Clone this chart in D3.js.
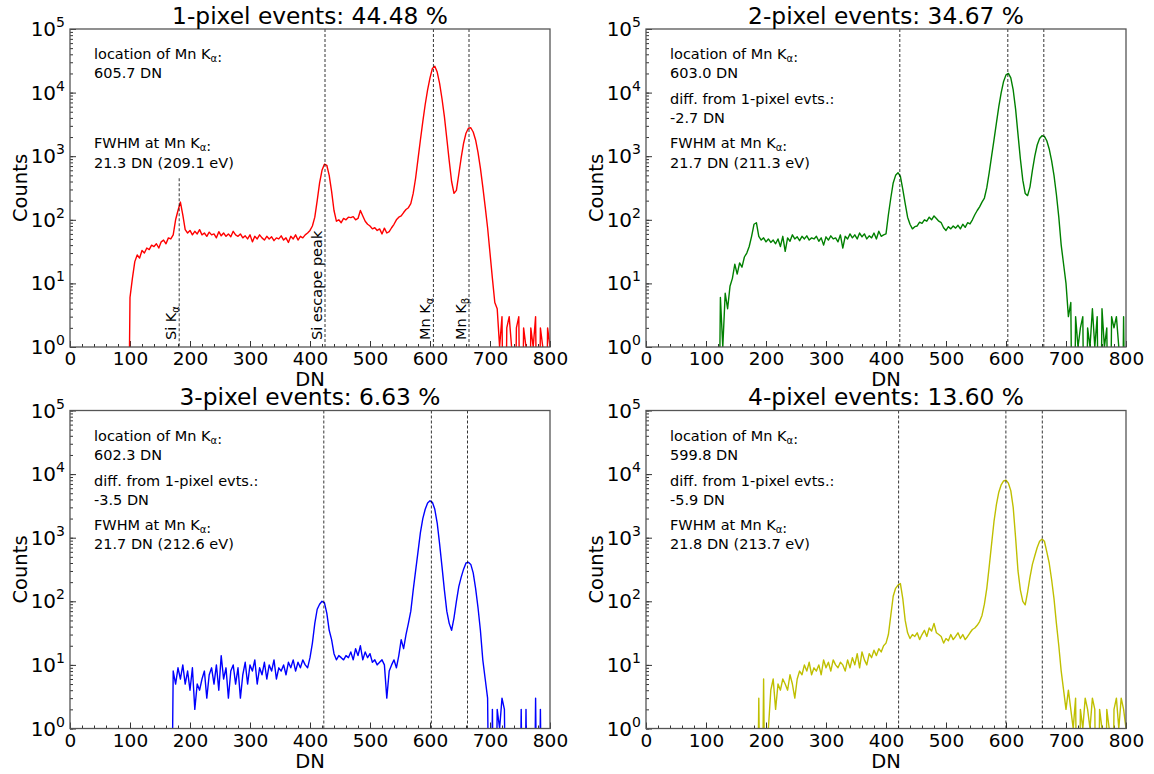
<!DOCTYPE html>
<html>
<head>
<meta charset="utf-8">
<script src="https://cdn.jsdelivr.net/npm/d3@7"></script>
<style>
body { margin: 0; background: #fff; }
svg { font-family: "DejaVu Sans", sans-serif; }
</style>
</head>
<body>
<div id="chart"></div>
<script>
// DN bins (4 DN wide), shared by all four spectra
var dnBins = d3.range(0, 801, 4);

var counts1 = [0,0,0,0,0,0,0,0,0,0,0,0,0,0,0,0,0,0,0,0,0,0,0,0,0,
    6,12,22,28,25,33,30,36,34,40,38,42,36,45,48,42,52,50,58,100,140,190,120,70,62,
    68,58,66,60,70,58,62,55,64,58,60,52,65,56,62,55,60,54,66,58,55,60,52,56,50,
    58,45,55,50,58,52,48,55,50,54,47,52,50,56,48,52,44,55,50,58,48,55,52,58,62,
    68,80,110,200,380,600,750,720,500,280,140,95,100,90,105,100,110,108,112,100,105,140,115,95,85,
    80,72,75,68,72,60,74,62,65,75,85,100,110,115,130,145,155,180,260,450,900,1800,3500,6500,11000,
    17000,24000,26000,21000,14000,8000,4200,1900,850,400,260,290,520,950,1600,2300,2750,2800,2400,1800,1150,650,330,160,75,
    30,12,5,4,1,3,0,2,3,1,0,2,3,0,2,1,0,2,1,3,0,2,1,0,2,
    1];

var counts2 = [0,0,0,0,0,0,0,0,0,0,0,0,0,0,0,0,0,0,0,0,0,0,0,0,0,0,0,0,0,0,0,
    6,1,7,4,9,12,20,14,21,18,26,30,38,55,85,90,55,48,52,45,50,44,48,42,50,
    38,55,32,52,46,58,50,54,47,55,50,56,48,52,50,55,46,52,40,54,48,56,50,52,45,
    58,36,55,50,60,52,58,50,62,54,60,50,56,52,62,50,66,55,58,60,120,220,380,500,550,
    480,300,180,110,85,72,78,80,92,88,100,95,110,100,115,105,95,90,75,68,78,72,80,74,82,
    72,85,76,90,86,100,120,140,160,190,220,320,550,1000,1800,3300,6000,10000,15000,19000,20000,17000,11000,5500,2200,
    900,420,260,240,330,600,1000,1500,1900,2100,2050,1750,1300,850,500,250,110,40,20,10,3,5,0,3,1,
    2,3,0,2,1,4,1,3,0,4,1,2,0,3,2,3,1,0,3,0];

var counts3 = [0,0,0,0,0,0,0,0,0,0,0,0,0,0,0,0,0,0,0,0,0,0,0,0,0,0,0,0,0,0,0,0,0,0,0,0,0,0,0,0,0,0,0,
    8,5,9,6,10,5,8,4,9,2,5,4,6,8,3,7,9,5,10,4,14,6,9,3,8,
    10,5,9,3,7,11,5,10,8,12,5,9,7,11,6,10,8,12,6,9,8,10,7,11,9,
    12,8,11,9,12,10,9,13,22,45,75,90,100,95,65,35,25,15,12,14,13,12,14,13,16,
    12,18,14,20,12,16,13,15,11,12,10,11,12,10,3,8,10,12,9,14,25,18,30,45,70,
    150,300,600,1200,2000,2800,3500,3800,3600,2800,1700,800,350,150,70,45,35,55,100,170,240,320,400,410,380,
    280,160,80,35,12,6,3,0,2,0,2,1,3,2,0,0,0,0,0,0,2,0,2,0,0,
    0,3,0,2,0,0,0,0];

var counts4 = [0,0,0,0,0,0,0,0,0,0,0,0,0,0,0,0,0,0,0,0,0,0,0,0,0,0,0,0,0,0,0,0,0,0,0,0,0,0,0,0,0,0,0,0,0,0,0,
    3,0,6,0,1,4,6,2,5,4,6,5,4,7,5,3,6,8,7,10,8,11,7,9,8,
    10,7,12,9,11,8,12,10,9,11,10,8,12,9,13,10,15,9,16,12,10,15,13,17,14,
    18,16,20,22,30,60,120,160,180,190,110,50,32,26,30,28,32,25,30,35,28,38,34,45,32,
    30,28,22,26,24,30,25,28,32,26,30,25,28,32,36,38,42,48,60,90,160,350,800,1800,3300,
    5200,6800,7800,8000,7200,5500,3000,1000,300,150,100,88,140,240,380,520,700,880,950,880,600,400,220,110,45,
    20,8,4,2,4,2,1,3,0,2,1,3,2,1,3,2,0,2,1,0,2,1,0,2,3,
    1,3,2,1];

var titles = ["1-pixel events: 44.48 %", "2-pixel events: 34.67 %",
    "3-pixel events: 6.63 %", "4-pixel events: 13.60 %"];
var colors = ["#ff0000", "#008000", "#0000ff", "#bfbf00"];

// Mn Ka location, difference to 1-pixel, FWHM
var mnLocation = ["605.7 DN", "603.0 DN", "602.3 DN", "599.8 DN"];
var mnDiff = [null, "-2.7 DN", "-3.5 DN", "-5.9 DN"];
var fwhm = ["21.3 DN (209.1 eV)", "21.7 DN (211.3 eV)", "21.7 DN (212.6 eV)", "21.8 DN (213.7 eV)"];

// dashed marker lines: Si escape, Mn Ka, Mn Kb
var markerDN = [[425, 605.7, 665], [423, 603.0, 663], [423, 602.3, 662.5], [421, 599.8, 660.5]];
var markerNames = ["Si escape peak", "Mn Kα", "Mn Kβ"];
var siKaDN = 182;
var siKaTop = 450;

var allCounts = [counts1, counts2, counts3, counts4];

var W = 1154, H = 774;
var plotW = 480, plotH = 318;
var layout = [{left: 70, top: 29}, {left: 646, top: 29}, {left: 70, top: 410.5}, {left: 646, top: 410.5}];

var svg = d3.select("#chart").append("svg").attr("width", W).attr("height", H);

function richText(t, str, subSize) {
    // greek letters after K are drawn as subscripts
    var parts = str.split(/([αβ])/);
    parts.forEach(function(p) {
        if (p === "α" || p === "β") {
            t.append("tspan").attr("font-size", subSize).attr("dy", 3).text(p);
            t.append("tspan").attr("dy", -3).text("");
        } else if (p.length) {
            t.append("tspan").text(p);
        }
    });
    return t;
}

function drawPanel(i) {
    var g = svg.append("g").attr("transform", "translate(" + layout[i].left + "," + layout[i].top + ")");
    var x = d3.scaleLinear().domain([0, 800]).range([0, plotW]);
    var y = d3.scaleLog().domain([1, 1e5]).range([plotH, 0]);

    g.append("clipPath").attr("id", "clip" + i)
        .append("rect").attr("width", plotW).attr("height", plotH);

    // ticks (inward)
    var xMajor = d3.axisBottom(x).tickValues(d3.range(0, 801, 100)).tickSizeInner(-6).tickSizeOuter(0).tickPadding(5)
        .tickFormat(d3.format("d"));
    var xMinor = d3.axisBottom(x).tickValues(d3.range(0, 801, 20)).tickSizeInner(-3).tickSizeOuter(0).tickFormat("");
    g.append("g").attr("transform", "translate(0," + plotH + ")").call(xMinor);
    var gx2 = g.append("g").attr("transform", "translate(0," + plotH + ")").call(xMajor);
    gx2.selectAll("text").attr("font-size", 18.5).attr("font-family", "DejaVu Sans").attr("fill", "#000");

    var yMinor = d3.axisLeft(y).tickValues(y.ticks()).tickSizeInner(-3).tickSizeOuter(0).tickFormat("");
    var yMajor = d3.axisLeft(y).tickValues([1, 10, 100, 1000, 1e4, 1e5]).tickSizeInner(-6).tickSizeOuter(0).tickFormat("");
    g.append("g").call(yMinor);
    g.append("g").call(yMajor);
    g.selectAll(".domain").remove();
    g.selectAll(".tick line").attr("stroke", "#333").attr("stroke-width", 1);

    d3.range(0, 6).forEach(function(k) {
        var t = g.append("text").attr("x", -5).attr("y", y(Math.pow(10, k)) + 7)
            .attr("text-anchor", "end").attr("font-size", 20);
        t.append("tspan").text("10");
        t.append("tspan").attr("font-size", 14).attr("dy", -9).text(k);
    });

    // spectrum
    var pts = dnBins.map(function(d, j) { return [d, allCounts[i][j]]; });
    var line = d3.line()
        .x(function(d) { return x(d[0]); })
        .y(function(d) { return y(Math.max(d[1], 1e-3)); });
    g.append("path").datum(pts)
        .attr("clip-path", "url(#clip" + i + ")")
        .attr("d", line)
        .attr("fill", "none")
        .attr("stroke", colors[i])
        .attr("stroke-width", 1.4)
        .attr("stroke-linejoin", "round");

    // dashed markers
    markerDN[i].forEach(function(dn, m) {
        g.append("line").attr("x1", x(dn)).attr("x2", x(dn)).attr("y1", 0).attr("y2", plotH)
            .attr("stroke", "#000").attr("stroke-width", 0.8).attr("stroke-dasharray", "3,2");
        if (i === 0) {
            richText(g.append("text")
                .attr("transform", "translate(" + (x(dn) - 3) + "," + (plotH - 7) + ") rotate(-90)")
                .attr("font-size", 14.5), markerNames[m], 10);
        }
    });
    if (i === 0) {
        g.append("line").attr("x1", x(siKaDN)).attr("x2", x(siKaDN)).attr("y1", y(siKaTop)).attr("y2", plotH)
            .attr("stroke", "#000").attr("stroke-width", 0.8).attr("stroke-dasharray", "3,2");
        richText(g.append("text")
            .attr("transform", "translate(" + (x(siKaDN) - 3) + "," + (plotH - 7) + ") rotate(-90)")
            .attr("font-size", 14.5), "Si Kα", 10);
    }

    // frame
    g.append("rect").attr("width", plotW).attr("height", plotH)
        .attr("fill", "none").attr("stroke", "#555").attr("stroke-width", 1.3);

    // notes
    var rows = [30.3, 49.3, 75, 94, 119.3, 138.7];
    var notes = [[0, "location of Mn Kα:"], [1, mnLocation[i]]];
    if (mnDiff[i]) {
        notes.push([2, "diff. from 1-pixel evts.:"]);
        notes.push([3, mnDiff[i]]);
    }
    notes.push([4, "FWHM at Mn Kα:"]);
    notes.push([5, fwhm[i]]);
    notes.forEach(function(n) {
        richText(g.append("text").attr("x", 24).attr("y", rows[n[0]]).attr("font-size", 14.5), n[1], 10);
    });

    // titles and labels
    g.append("text").attr("x", plotW / 2).attr("y", -5.5).attr("text-anchor", "middle")
        .attr("font-size", 23.3).text(titles[i]);
    g.append("text").attr("x", plotW / 2).attr("y", plotH + 39).attr("text-anchor", "middle")
        .attr("font-size", 19.5).text("DN");
    g.append("text").attr("transform", "translate(-43," + (plotH / 2) + ") rotate(-90)")
        .attr("text-anchor", "middle").attr("font-size", 19.5).text("Counts");
}

for (var i = 0; i < 4; i++) {
    drawPanel(i);
}
</script>
</body>
</html>
